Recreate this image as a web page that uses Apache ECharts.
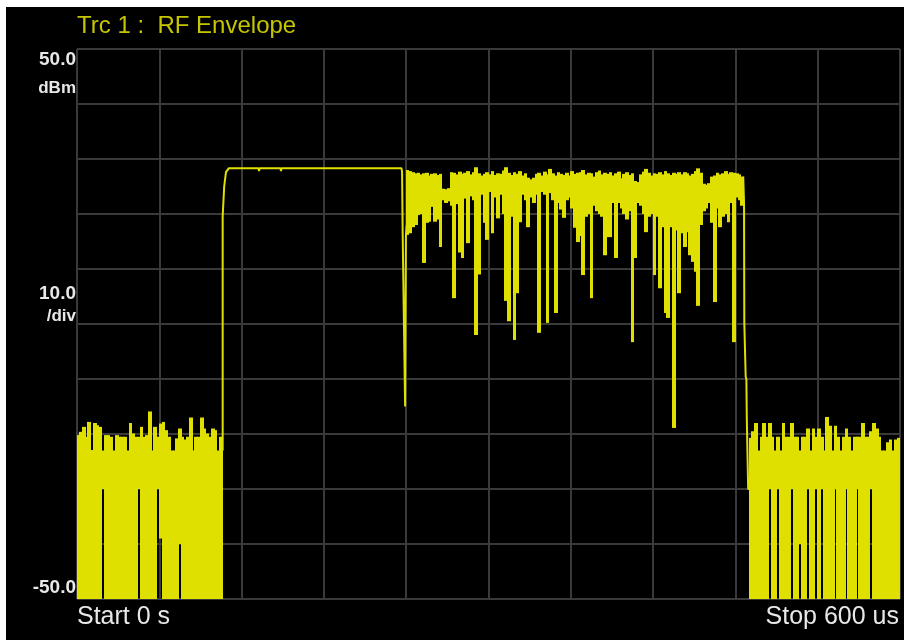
<!DOCTYPE html>
<html>
<head>
<meta charset="utf-8">
<style>
  html, body { margin: 0; padding: 0; background: #fff; }
  #frame { position: absolute; left: 6px; top: 7px; right: 0; bottom: 2px; background: #000; }
  #main { position: absolute; left: 0; top: 0; width: 904px; height: 642px; }
</style>
</head>
<body>
<div id="frame"></div>
<div id="main"></div>
<script src="https://cdn.jsdelivr.net/npm/echarts@6/dist/echarts.min.js"></script>
<script>
    // trace kept as min/max per display column, one column every 2 us
    var STEP = 2;
    var YELLOW = '#dfdf00';

    var noiseAStart = 0;
    var noiseAHi = [
        -20.2, -19.6, -18.7, -20.5, -17.8, -22.9, -18.0, -18.4, -18.7, -23.0,
        -20.2, -20.2, -20.5, -23.0, -20.2, -20.5, -20.5, -20.5, -23.0, -18.0,
        -19.9, -20.5, -20.5, -18.7, -20.5, -20.2, -15.9, -23.0, -18.7, -20.5,
        -18.1, -17.8, -19.3, -20.5, -23.0, -23.0, -20.8, -19.0, -20.5, -21.0,
        -20.5, -17.0, -23.0, -20.5, -20.5, -17.0, -19.0, -19.9, -20.5, -19.0,
        -19.3, -23.0, -20.5
    ];
    var noiseALo = [
        -60, -60, -60, -60, -60, -60, -60, -60, -60, -30,
        -60, -60, -60, -60, -60, -60, -60, -60, -60, -60,
        -60, -60, -30, -60, -60, -60, -60, -60, -60, -30,
        -39, -60, -60, -60, -60, -60, -60, -40, -60, -60,
        -60, -60, -60, -60, -60, -60, -60, -60, -60, -60,
        -60, -60, -60
    ];

    var burstStart = 240;
    var burstHi = [
        28.0, 27.8, 27.6, 27.4, 27.5, 27.2, 27.4, 27.5, 27.0, 27.3,
        27.4, 27.1, 27.3, 24.6, 24.5, 24.7, 27.6, 27.5, 27.2, 27.7,
        27.3, 27.5, 27.8, 27.2, 27.6, 28.5, 27.4, 27.0, 27.3, 27.6,
        27.2, 27.8, 27.1, 27.4, 27.3, 27.9, 28.5, 27.5, 27.1, 27.6,
        27.3, 27.8, 27.0, 27.4, 26.6, 26.3, 26.6, 27.3, 27.5, 27.0,
        27.7, 27.2, 28.2, 27.4, 27.0, 27.6, 27.3, 27.1, 27.5, 27.0,
        27.8, 27.3, 27.5, 27.6, 28.0, 27.2, 27.5, 27.4, 26.8, 27.6,
        27.9, 27.2, 27.5, 27.3, 27.6, 27.0, 27.4, 27.7, 26.5, 27.3,
        27.6, 27.1, 27.4, 26.0, 25.8, 27.2, 27.7, 28.2, 27.5, 27.0,
        27.4, 27.3, 27.6, 27.2, 27.8, 27.4, 27.1, 27.5, 27.3, 27.6,
        27.2, 27.6, 27.4, 27.0, 27.3, 27.8, 28.3, 27.5, 25.5, 25.3,
        25.6, 26.8, 27.0, 27.5, 27.2, 27.4, 27.8, 27.3, 27.6, 27.5,
        27.4, 27.2, 26.8
    ];
    var burstLo = [
        16.2, 16.5, 17.6, 18.0, 19.8, 20.0, 11.1, 18.4, 18.6, 21.3,
        18.6, 19.0, 14.0, 22.5, 22.0, 22.3, 21.5, 4.7, 21.8, 13.0,
        12.0, 22.8, 14.7, 23.2, 22.5, -2.0, 9.0, 23.5, 18.4, 15.3,
        24.0, 16.5, 23.0, 19.2, 23.5, 20.0, 4.2, 0.5, 19.5, -2.9,
        5.6, 18.5, 23.5, 22.5, 17.6, 23.0, 22.0, 23.5, -1.6, 24.0,
        23.5, 0.2, 23.8, 22.5, 2.0, 22.0, 20.8, 19.3, 22.5, 23.0,
        21.0, 17.5, 14.9, 16.0, 8.9, 19.5, 20.0, 4.7, 21.5, 20.5,
        20.0, 19.5, 12.5, 15.8, 15.8, 22.0, 12.0, 22.0, 21.0, 20.0,
        19.0, 20.5, -3.3, 12.0, 22.0, 21.5, 20.0, 16.7, 19.5, 20.0,
        8.9, 19.5, 6.5, 17.6, 2.0, 1.1, 17.6, -18.9, 17.0, 5.6,
        16.5, 14.0, 16.7, 12.5, 11.3, 9.5, 3.3, 18.0, 20.5, 21.0,
        22.0, 18.4, 4.0, 21.0, 17.6, 19.5, 20.0, 18.5, 22.0, -3.3,
        23.0, 22.5, 21.5
    ];

    var noiseBStart = 490;
    var noiseBHi = [
        -20.7, -19.5, -18.0, -23.0, -20.5, -18.0, -20.5, -18.0, -20.5, -23.0,
        -20.5, -23.0, -18.0, -20.5, -20.5, -18.0, -20.5, -20.5, -23.0, -20.5,
        -20.5, -19.0, -23.0, -19.0, -20.5, -19.0, -20.5, -23.0, -16.9, -18.5,
        -23.0, -18.5, -20.5, -23.0, -20.5, -19.0, -20.5, -23.0, -20.5, -20.5,
        -20.5, -18.0, -20.5, -20.5, -19.5, -18.0, -19.0, -20.5, -23.0, -23.0,
        -21.5, -21.0, -23.0, -21.0, -20.7
    ];
    var noiseBLo = [
        -60, -60, -60, -60, -60, -60, -60, -30, -60, -60,
        -30, -60, -60, -60, -60, -30, -60, -60, -40, -60,
        -60, -30, -60, -60, -30, -60, -30, -60, -60, -60,
        -60, -30, -60, -60, -60, -30, -60, -60, -60, -30,
        -60, -60, -60, -60, -30, -60, -60, -60, -60, -60,
        -60, -60, -60, -60, -60
    ];

    // rising edge, flat top, and the drop into the modulated part
    var riseT = [106.2, 106.2, 107.0, 107.3, 108.3, 108.6, 110.0, 110.6, 132.3, 132.7, 133.1,
        148.3, 148.7, 149.1, 236.6, 237.0, 237.4, 238.6, 239.2, 239.8, 240.4];
    var riseV = [-23.0, 19.5, 19.8, 25.0, 25.2, 27.6, 27.8, 28.3, 28.3, 27.8, 28.3,
        28.3, 27.8, 28.3, 28.3, 27.6, 17.0, 17.0, -15.0, 16.2, 18.0];
    // falling edge back to the noise floor
    var fallT = [485.7, 486.3, 486.5, 487.2, 487.5, 488.0, 488.3, 489.0, 489.3, 490.4];
    var fallV = [26.8, 22.0, 0.2, 0.2, -9.6, -10.0, -17.0, -17.0, -30.0, -30.0];

    var traceName = 'Trc 1 :  RF Envelope';
    var scaleTop = ['50.0', 'dBm'];
    var scaleMid = ['10.0', '/div'];
    var scaleBottom = '-50.0';
    var startLabel = 'Start 0 s';
    var stopLabel = 'Stop 600 us';

    function columns(start, hi, lo) {
        var out = [];
        for (var i = 0; i < hi.length; i++) {
            out.push([start + i * STEP, lo[i], hi[i]]);
        }
        return out;
    }
    function pairs(t, v) {
        var out = [];
        for (var i = 0; i < t.length; i++) {
            out.push([t[i], v[i]]);
        }
        return out;
    }

    var colData = columns(noiseAStart, noiseAHi, noiseALo)
        .concat(columns(burstStart, burstHi, burstLo))
        .concat(columns(noiseBStart, noiseBHi, noiseBLo));

    function renderCol(params, api) {
        var t = api.value(0), lo = api.value(1), hi = api.value(2);
        var p0 = api.coord([t, hi]);
        var p1 = api.coord([t + STEP, lo]);
        // snap the column edges to whole pixels so neighbours join without seams
        var x0 = Math.floor(p0[0]);
        var x1 = Math.ceil(p1[0]);
        var rect = echarts.graphic.clipRectByRect({
            x: x0,
            y: p0[1],
            width: x1 - x0,
            height: Math.max(p1[1] - p0[1], 1.5)
        }, {
            x: params.coordSys.x,
            y: params.coordSys.y,
            width: params.coordSys.width,
            height: params.coordSys.height
        });
        return rect && { type: 'rect', shape: rect, style: { fill: YELLOW } };
    }

    var numFont = 'bold 19px "Liberation Sans", Arial, sans-serif';
    var unitFont = 'bold 17px "Liberation Sans", Arial, sans-serif';
    var bigFont = '25px "Liberation Sans", Arial, sans-serif';
    var white = '#e8e8e8';

    function txt(text, x, y, align, font, color) {
        return {
            type: 'text',
            style: { text: text, x: x, y: y, textAlign: align, textVerticalAlign: 'middle', font: font, fill: color }
        };
    }

    var gridLine = { show: true, lineStyle: { color: '#3a3a3a', width: 2 } };

    var myChart = echarts.init(document.getElementById('main'));
    var option = {
        backgroundColor: 'transparent',
        animation: false,
        grid: { left: 77, top: 49, width: 823, height: 550 },
        xAxis: {
            type: 'value', min: 0, max: 600, interval: 60,
            axisLine: { show: false }, axisTick: { show: false }, axisLabel: { show: false },
            splitLine: gridLine
        },
        yAxis: {
            type: 'value', min: -50, max: 50, interval: 10,
            axisLine: { show: false }, axisTick: { show: false }, axisLabel: { show: false },
            splitLine: gridLine
        },
        graphic: [
            txt(traceName, 77, 26, 'left', '24px "Liberation Sans", Arial, sans-serif', '#c6c600'),
            txt(scaleTop[0], 76, 60, 'right', numFont, white),
            txt(scaleTop[1], 76, 88, 'right', unitFont, white),
            txt(scaleMid[0], 76, 294, 'right', numFont, white),
            txt(scaleMid[1], 76, 316, 'right', unitFont, white),
            txt(scaleBottom, 76, 588, 'right', numFont, white),
            txt(startLabel, 77, 617, 'left', bigFont, white),
            txt(stopLabel, 899, 617, 'right', bigFont, white)
        ],
        series: [
            {
                name: 'columns',
                type: 'custom',
                renderItem: renderCol,
                encode: { x: 0, y: [1, 2] },
                data: colData,
                silent: true
            },
            {
                name: 'rise',
                type: 'line',
                data: pairs(riseT, riseV),
                showSymbol: false,
                silent: true,
                lineStyle: { color: YELLOW, width: 2 }
            },
            {
                name: 'fall',
                type: 'line',
                data: pairs(fallT, fallV),
                showSymbol: false,
                silent: true,
                lineStyle: { color: YELLOW, width: 2 }
            }
        ]
    };
    myChart.setOption(option);
</script>
</body>
</html>
